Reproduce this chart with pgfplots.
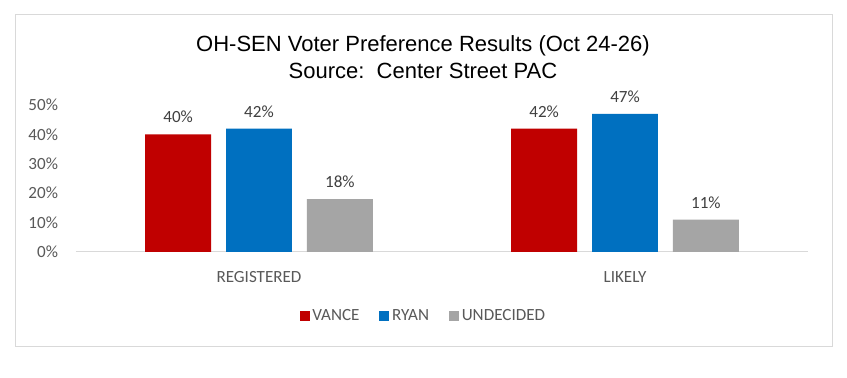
\documentclass[border=0pt]{standalone}
\usepackage{pgfplots}
\pgfplotsset{compat=1.18}
\usepackage{fontspec}
\setmainfont{Carlito}
\newfontfamily\arialf{Liberation Sans}
\definecolor{cRed}{HTML}{C00000}
\definecolor{cBlue}{HTML}{0070C0}
\definecolor{cGray}{HTML}{A5A5A5}
\definecolor{txt}{HTML}{595959}
\definecolor{dlab}{HTML}{404040}
\definecolor{brd}{HTML}{D9D9D9}
\pgfplotstableread{
x vance ryan und
0 40 42 18
1 42 47 11
}\data
\begin{document}
\begin{tikzpicture}
\path[use as bounding box,fill=white] (0pt,0pt) rectangle (635.25pt,283.5pt);
\draw[brd,line width=0.75pt] (11.25pt,23.25pt) rectangle (624pt,272.25pt);
\node[font=\arialf\fontsize{16.5}{19}\selectfont,black] at (317.25pt,249.5pt) {OH-SEN Voter Preference Results (Oct 24-26)};
\node[font=\arialf\fontsize{16.5}{19}\selectfont,black] at (317.25pt,230.5pt) {Source:\ \ Center Street PAC};
\begin{axis}[
  at={(57pt,94.5pt)}, anchor=south west,
  scale only axis, width=549pt, height=110.25pt,
  xmin=-0.5, xmax=1.5, ymin=0, ymax=50,
  axis x line*=bottom, axis y line*=left,
  y axis line style={draw=none},
  x axis line style={draw=brd,line width=0.75pt,-},
  major tick length=0pt,
  /pgf/number format/assume math mode=true,
  xtick={0,1}, xticklabels={REGISTERED,LIKELY},
  ytick={0,10,20,30,40,50},
  yticklabels={0\%,10\%,20\%,30\%,40\%,50\%},
  tick label style={font=\fontsize{12.8}{15}\selectfont, text=txt},
  xticklabel style={yshift=-11pt},
  yticklabel style={xshift=-10pt},
  ybar, bar width=0.18,
  nodes near coords={\pgfmathprintnumber{\pgfplotspointmeta}\%},
  nodes near coords style={font=\fontsize{12.8}{15}\selectfont, text=dlab, yshift=5pt},
  legend style={at={(0.475,-0.435)}, anchor=center, draw=none, legend columns=3,
    font=\fontsize{12.8}{15}\selectfont, text=txt,
    /tikz/every even column/.append style={column sep=13pt}},
  legend image code/.code={\fill[#1] (0pt,-3.75pt) rectangle (7.5pt,3.75pt);},
]
\addplot[draw=none, fill=cRed, bar shift=-0.221] table[x=x,y=vance]{\data};
\addplot[draw=none, fill=cBlue, bar shift=0] table[x=x,y=ryan]{\data};
\addplot[draw=none, fill=cGray, bar shift=0.221] table[x=x,y=und]{\data};
\legend{VANCE,RYAN,UNDECIDED}
\end{axis}
\end{tikzpicture}
\end{document}
